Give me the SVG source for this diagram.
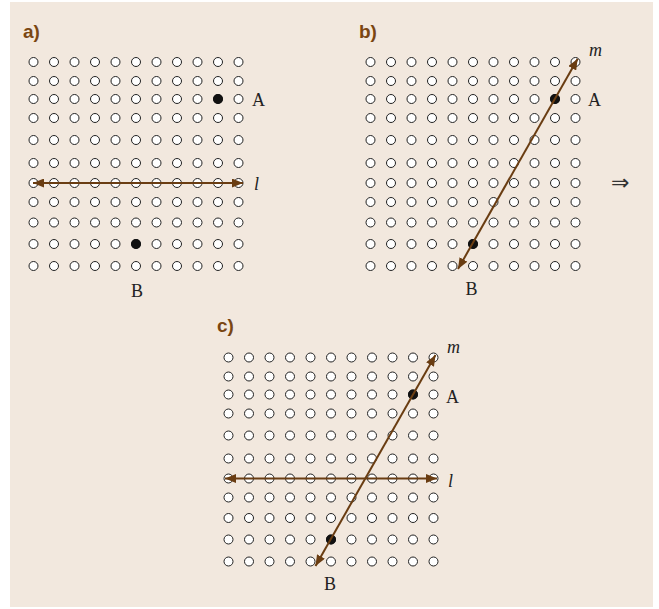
<svg xmlns="http://www.w3.org/2000/svg" xmlns:xlink="http://www.w3.org/1999/xlink" width="659" height="609" viewBox="0 0 659 609">
<style>
.o{fill:#fff;stroke:#222;stroke-width:1}
.d{fill:#111}
.arr{stroke:#6a3d12;stroke-width:2;fill:none;marker-start:url(#ah);marker-end:url(#ah)}
.lab{font-family:"Liberation Sans Narrow","Liberation Sans",sans-serif;font-weight:bold;font-size:19px;fill:#7a4612}
.t{font-family:"Liberation Serif",serif;font-size:18px;fill:#222}
.ti{font-family:"Liberation Serif",serif;font-style:italic;font-size:18px;fill:#222}
</style>
<defs>
<marker id="ah" viewBox="0 0 11 9" refX="11" refY="4.5" markerWidth="11" markerHeight="9" markerUnits="userSpaceOnUse" orient="auto-start-reverse">
<path d="M0,0 L11,4.5 L0,9 Z" fill="#6a3d12"/>
</marker>
<g id="row">
<circle class="o" cx="0" cy="0" r="4.5"/><circle class="o" cx="20.5" cy="0" r="4.5"/><circle class="o" cx="41" cy="0" r="4.5"/><circle class="o" cx="61.5" cy="0" r="4.5"/><circle class="o" cx="82" cy="0" r="4.5"/><circle class="o" cx="102.5" cy="0" r="4.5"/><circle class="o" cx="123" cy="0" r="4.5"/><circle class="o" cx="143.5" cy="0" r="4.5"/><circle class="o" cx="164" cy="0" r="4.5"/><circle class="o" cx="184.5" cy="0" r="4.5"/><circle class="o" cx="205" cy="0" r="4.5"/>
</g>
<g id="grid">
<use xlink:href="#row" y="62"/><use xlink:href="#row" y="81"/><use xlink:href="#row" y="99"/><use xlink:href="#row" y="118"/><use xlink:href="#row" y="140"/><use xlink:href="#row" y="163"/><use xlink:href="#row" y="183"/><use xlink:href="#row" y="202"/><use xlink:href="#row" y="222.5"/><use xlink:href="#row" y="244"/><use xlink:href="#row" y="266"/>
</g>
</defs>
<rect x="10" y="2" width="643" height="605" fill="#f2e8de"/>

<g id="panel-a">
<text class="lab" x="23" y="38">a)</text>
<use xlink:href="#grid" x="33.5" y="0"/>
<circle class="d" cx="218" cy="99" r="5"/>
<circle class="d" cx="136" cy="244" r="5"/>
<text class="t" x="252" y="106">A</text>
<text class="t" x="137" y="297" text-anchor="middle">B</text>
<text class="ti" x="254" y="190">l</text>
</g>

<g id="panel-b">
<text class="lab" x="359" y="38">b)</text>
<use xlink:href="#grid" x="370.5" y="0"/>
<circle class="d" cx="555" cy="99" r="5"/>
<circle class="d" cx="473" cy="244" r="5"/>
<text class="t" x="588" y="106">A</text>
<text class="t" x="471.5" y="295" text-anchor="middle">B</text>
<text class="ti" x="589" y="56">m</text>
<text x="611" y="190" font-family="DejaVu Sans,sans-serif" font-size="22" fill="#333">⇒</text>
</g>

<g id="panel-c">
<text class="lab" x="217" y="332">c)</text>
<use xlink:href="#grid" x="228.5" y="295.5"/>
<circle class="d" cx="413" cy="394.5" r="5"/>
<circle class="d" cx="331" cy="539.5" r="5"/>
<text class="t" x="446" y="403">A</text>
<text class="t" x="330" y="590" text-anchor="middle">B</text>
<text class="ti" x="447" y="353">m</text>
<text class="ti" x="448" y="487">l</text>
</g>

<g id="connectors">
<line class="arr" x1="33" y1="183" x2="243" y2="183"/>
<line class="arr" x1="458" y1="269" x2="577.7" y2="58.7"/>
<line class="arr" x1="225" y1="478.5" x2="437" y2="478.5"/>
<line class="arr" x1="315.5" y1="566" x2="435.5" y2="355"/>
</g>
</svg>
